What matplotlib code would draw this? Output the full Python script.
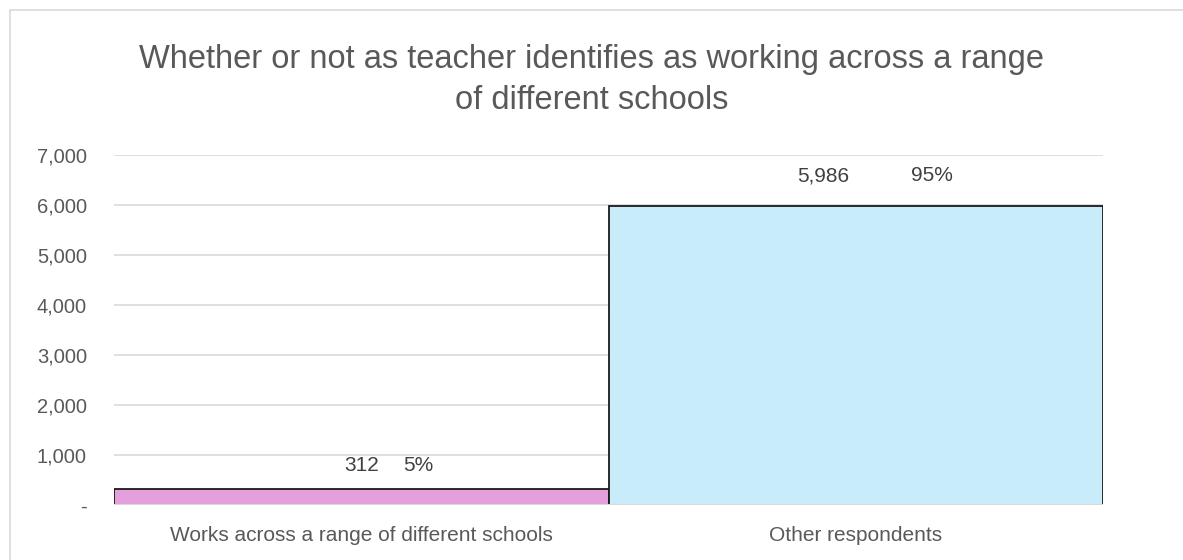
import matplotlib.pyplot as plt
from matplotlib.patches import Rectangle
from matplotlib.ticker import FuncFormatter

categories = ["Works across a range of different schools", "Other respondents"]
counts = [312, 5986]
shares = ["5%", "95%"]
bar_colors = ["#E4A0DC", "#C9ECFA"]

title = "Whether or not as teacher identifies as working across a range\nof different schools"

# label placement (pixels from bar centre / bar top)
count_dx = [0, -33]
share_dx = [57, 76]
label_dy = [24, 30]

plt.rcParams['font.family'] = ['Liberation Sans', 'DejaVu Sans']

W, H = 1183, 560
fig = plt.figure(figsize=(W / 100, H / 100), dpi=100)
ax = fig.add_axes([114 / W, 1 - 505 / H, (1103 - 114) / W, 350 / H])

# chart frame
fig.patches.append(Rectangle((10 / W, -0.1), 1.2, 1 - 10 / H + 0.1, transform=fig.transFigure,
                             fill=False, edgecolor="#D9D9D9", linewidth=1.2))

x = list(range(len(categories)))
ax.bar(x, counts, width=1.0, color=bar_colors, edgecolor="#1a1a1a", linewidth=1.3, zorder=3)

ax.set_xlim(-0.5, 1.5)
ax.set_ylim(0, 7000)
ax.set_yticks(range(0, 7001, 1000))
ax.yaxis.set_major_formatter(FuncFormatter(lambda v, p: "-" if v == 0 else f"{int(v):,}"))
ax.grid(axis="y", color="#D9D9D9", linewidth=1.2, zorder=0)
for s in ax.spines.values():
    s.set_visible(False)
ax.tick_params(axis="y", length=0, pad=19.5, labelsize=14.5, labelcolor="#595959")
ax.set_xticks(x)
ax.set_xticklabels(categories)
ax.tick_params(axis="x", length=0, pad=15, labelsize=15, labelcolor="#595959")
ax.axhline(0, color="#D9D9D9", linewidth=1.5, zorder=4)

px = 72 / 100  # points per pixel
for i, (c, s) in enumerate(zip(counts, shares)):
    ax.annotate(f"{c:,}", (x[i], c), xytext=(count_dx[i] * px, label_dy[i] * px),
                textcoords="offset points", ha="center", va="center",
                fontsize=15, color="#404040")
    ax.annotate(s, (x[i], c), xytext=(share_dx[i] * px, label_dy[i] * px),
                textcoords="offset points", ha="center", va="center",
                fontsize=15, color="#404040")

fig.text(0.5, 1 - 80 / H, title, ha="center", va="center", fontsize=23.5,
         color="#595959", linespacing=1.45)

fig.savefig("out.png", dpi=100)
